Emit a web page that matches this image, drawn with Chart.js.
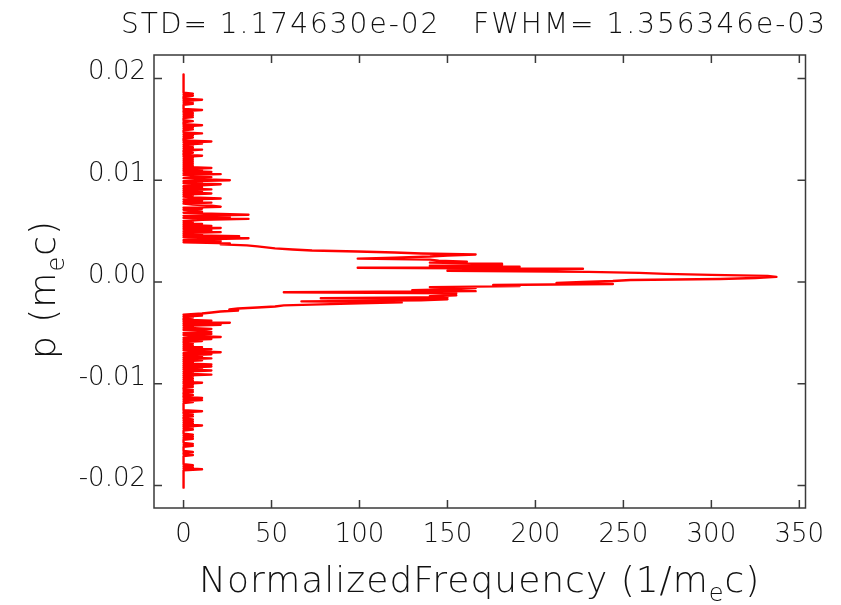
<!DOCTYPE html>
<html>
<head>
<meta charset="utf-8">
<script src="https://cdn.jsdelivr.net/npm/chart.js@4"></script>
<style>
  body { margin: 0; background: #fff; }
  #wrap { width: 841px; height: 605px; }
</style>
</head>
<body>
<div id="wrap"><canvas id="histChart"></canvas></div>
<script>
// momentum bins: p = pTop - i * binWidth (top of the plot first)
const pTop = 0.0204;
const binWidth = 0.0001;

// normalized frequency, upper tail (p from 0.0204 down to 0.0039)
const freqUpperTail = [
  0,0,0,0,0,0,0,0,0,0,
  0,0,0,0,0,0,0,0,0,5.3,
  0,5.3,0,0,0,10.5,0,5.3,0,5.3,
  0,0,0,0,0,10.5,0,0,5.3,0,
  5.3,0,5.3,0,0,0,5.3,0,0,0,
  10.5,0,5.3,0,5.3,0,0,0,10.5,0,
  5.3,0,5.3,0,0,0,15.8,0,10.5,0,
  5.3,0,5.3,0,10.5,0,0,5.3,0,0,
  10.5,0,5.3,0,5.3,0,5.3,0,5.3,0,
  5.3,0,15.8,0,10.5,0,15.8,0,21.1,0,
  5.3,15.8,0,10.5,26.3,0,10.5,0,21.1,10.5,
  0,10.5,0,15.8,0,10.5,0,15.8,0,5.3,
  0,5.3,21.1,0,10.5,0,15.8,0,5.3,15.8,
  21.1,0,10.5,0,5.3,10.5,0,15.8,36.9,0,
  26.3,0,36.9,10.5,0,5.3,0,10.5,0,15.8,
  0,21.1,0,15.8,0,21.1,0,10.5,0,31.6,
  0,36.9,10.5,0,21.1,0
];

// core of the distribution (p from 0.0038 down to -0.0032)
const freqCore = [
  26.3,21.1,36,42,47,52,62,73,99,120,
  135,166,150,140,120,99,140,145,161,140,
  181,181,140,191,99,227,207,150,230,259,
  274,300,332,337,325,305,254,244,227,212,
  244,176,191,140,166,155,130,166,57,155,
  150,155,140,150,78,150,135,67,124,100,
  78,57,52,42,31,26,31,21,16,10.5,0
];

// lower tail (p from -0.0033 down to -0.0202)
const freqLowerTail = [
  10.5,0,5.3,0,0,15.8,0,26.3,0,21.1,
  0,5.3,0,15.8,0,10.5,15.8,0,15.8,0,
  5.3,21.1,0,15.8,0,10.5,0,5.3,0,5.3,
  0,10.5,0,15.8,0,5.3,21.1,0,15.8,0,
  10.5,0,15.8,0,10.5,0,5.3,0,15.8,0,
  15.8,0,10.5,0,15.8,0,5.3,0,15.8,0,
  5.3,0,5.3,0,5.3,0,10.5,0,5.3,0,
  5.3,0,0,5.3,0,5.3,0,0,5.3,0,
  0,10.5,0,10.5,0,5.3,0,0,0,0,
  0,0,0,0,10.5,0,0,5.3,0,5.3,
  0,0,5.3,0,5.3,0,5.3,0,10.5,0,
  5.3,0,5.3,0,0,0,0,5.3,0,5.3,
  0,5.3,0,0,0,0,5.3,0,5.3,0,
  0,0,0,0,5.3,0,0,5.3,0,0,
  0,0,0,0,0,0,0,5.3,0,5.3,
  0,10.5,0,0,0,0,0,0,0,0,
  0,0,0,0,0,0,0,0,0,0
];

const xTicks = [0, 50, 100, 150, 200, 250, 300, 350];
const yTicks = [-0.02, -0.01, 0.00, 0.01, 0.02];

const titleText = 'STD= 1.174630e-02   FWHM= 1.356346e-03';
// [text, isSubscript]
const xTitleParts = [['NormalizedFrequency (1/m', false], ['e', true], ['c)', false]];
const yTitleParts = [['p (m', false], ['e', true], ['c)', false]];

const axisColor = '#3a3a3a';
const textColor = '#111';
const fontFamily = "'DejaVu Sans', sans-serif";

const freq = freqUpperTail.concat(freqCore, freqLowerTail);
const points = freq.map((f, i) => ({ x: f, y: Math.round((pTop - i * binWidth) * 1e6) / 1e6 }));

// draws a label made of normal and subscript pieces, centred on 0,0 (baseline at 0)
function drawParts(ctx, parts, size) {
  const subSize = Math.round(size * 0.66);
  const widths = parts.map(([t, sub]) => {
    ctx.font = `200 ${sub ? subSize : size}px ${fontFamily}`;
    return ctx.measureText(t).width;
  });
  let x = -widths.reduce((a, b) => a + b, 0) / 2;
  parts.forEach(([t, sub], i) => {
    ctx.font = `200 ${sub ? subSize : size}px ${fontFamily}`;
    ctx.fillText(t, x, sub ? size * 0.25 : 0);
    x += widths[i];
  });
}

// box around the plot with inward ticks on all four sides, plus the titles
const frame = {
  id: 'frame',
  afterDatasetsDraw(chart) {
    const { ctx, chartArea: a, scales: { x, y } } = chart;
    const len = 8;
    ctx.save();
    ctx.strokeStyle = axisColor;
    ctx.lineWidth = 1.5;
    ctx.strokeRect(a.left, a.top, a.right - a.left, a.bottom - a.top);
    ctx.beginPath();
    xTicks.forEach(v => {
      const px = x.getPixelForValue(v);
      ctx.moveTo(px, a.bottom); ctx.lineTo(px, a.bottom - len);
      ctx.moveTo(px, a.top); ctx.lineTo(px, a.top + len);
    });
    yTicks.forEach(v => {
      const py = y.getPixelForValue(v);
      ctx.moveTo(a.left, py); ctx.lineTo(a.left + len, py);
      ctx.moveTo(a.right, py); ctx.lineTo(a.right - len, py);
    });
    ctx.stroke();

    ctx.fillStyle = textColor;
    ctx.textAlign = 'left';
    ctx.textBaseline = 'alphabetic';
    if ('letterSpacing' in ctx) ctx.letterSpacing = '2px';
    ctx.font = `200 28px ${fontFamily}`;
    const tw = ctx.measureText(titleText).width;
    ctx.fillText(titleText, 474 - tw / 2, 33);

    if ('letterSpacing' in ctx) ctx.letterSpacing = '1px';
    ctx.save();
    ctx.translate((a.left + a.right) / 2, 592);
    drawParts(ctx, xTitleParts, 36);
    ctx.restore();

    ctx.save();
    ctx.translate(55, (a.top + a.bottom) / 2 + 8);
    ctx.rotate(-Math.PI / 2);
    drawParts(ctx, yTitleParts, 36);
    ctx.restore();
    ctx.restore();
  }
};

new Chart(document.getElementById('histChart'), {
  type: 'scatter',
  data: {
    datasets: [{
      data: points,
      showLine: true,
      borderColor: '#ff0000',
      backgroundColor: '#ff0000',
      borderWidth: 2.4,
      borderJoinStyle: 'round',
      pointRadius: 0,
      tension: 0
    }]
  },
  options: {
    responsive: true,
    maintainAspectRatio: false,
    animation: false,
    layout: { padding: { left: 0, right: 35.5, top: 55, bottom: 0 } },
    plugins: {
      legend: { display: false },
      tooltip: { enabled: false },
      title: { display: false }
    },
    scales: {
      x: {
        type: 'linear',
        min: -16.8,
        max: 353.5,
        afterFit: s => { s.height = 97; },
        afterBuildTicks: s => { s.ticks = xTicks.map(v => ({ value: v })); },
        border: { display: false },
        grid: { display: false, drawTicks: false },
        ticks: {
          color: textColor,
          padding: 12,
          maxRotation: 0,
          font: { family: fontFamily, size: 26, weight: 200 }
        }
      },
      y: {
        type: 'linear',
        min: -0.0222,
        max: 0.0223,
        afterFit: s => { s.width = 154; },
        afterBuildTicks: s => { s.ticks = yTicks.map(v => ({ value: v })); },
        border: { display: false },
        grid: { display: false, drawTicks: false },
        ticks: {
          color: textColor,
          padding: 8,
          labelOffset: -6,
          font: { family: fontFamily, size: 26, weight: 200 },
          callback: v => v.toFixed(2)
        }
      }
    }
  },
  plugins: [frame]
});
</script>
</body>
</html>
